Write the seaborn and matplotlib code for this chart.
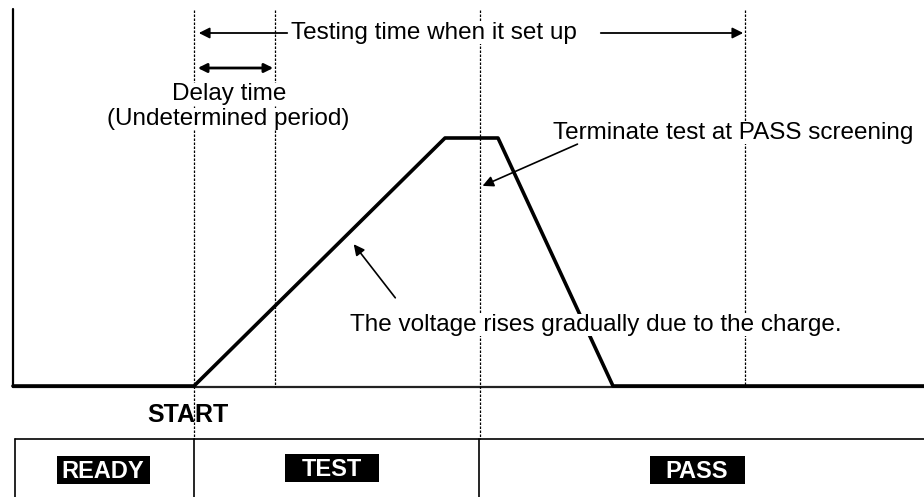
"""
test timing diagram using seaborn / matplotlib
"""
import pandas as pd
import seaborn as sns
import matplotlib.pyplot as plt
from matplotlib.patches import Rectangle

# waveform (x in px-like time units, y in px from top)
wave_t = [13, 194, 445, 498, 613, 924]
wave_v = [386, 386, 138, 138, 386, 386]

# dashed marker lines: x and where they stop
mark_x = [194, 275, 480, 745]
mark_bottom = [439, 387, 439, 387]

# state labels
state_names = ["READY", "TEST", "PASS"]
state_cx = [103, 332, 697]
state_cy = [470, 468, 470]
state_w = [93, 94, 95]
state_edges = [15, 194, 479]

sns.set_style("white")
plt.rcParams['font.family'] = ['Liberation Sans', 'DejaVu Sans']
plt.rcParams['text.color'] = 'black'
FS = 17.5
WB = dict(fc="white", ec="none", pad=0.2)

fig = plt.figure(figsize=(9.24, 4.97), dpi=100)
ax = fig.add_axes([0, 0, 1, 1])
ax.set_xlim(0, 924)
ax.set_ylim(497, 0)
ax.axis("off")

# axes of the diagram
ax.plot([13, 13], [9, 387], color="black", lw=1.6)
ax.plot([13, 924], [386.5, 386.5], color="#222222", lw=1.6)

wave = pd.DataFrame({"t": wave_t, "v": wave_v})
sns.lineplot(data=wave, x="t", y="v", color="black", linewidth=2.6, ax=ax, sort=False)

for x, b in zip(mark_x, mark_bottom):
    ax.plot([x, x], [10, b], color="black", lw=0.9, ls=(0, (2, 1.2)))

# testing time arrow
ax.annotate("", xy=(196, 33), xytext=(290, 33),
            arrowprops=dict(arrowstyle="-|>", color="black", lw=1.3, mutation_scale=16))
ax.annotate("", xy=(746, 33), xytext=(598, 33),
            arrowprops=dict(arrowstyle="-|>", color="black", lw=1.3, mutation_scale=16))
ax.text(291, 39, "Testing time when it set up", fontsize=FS, ha="left", va="baseline",
        bbox=WB, zorder=5)

# delay arrow
ax.annotate("", xy=(195, 68), xytext=(276, 68),
            arrowprops=dict(arrowstyle="<|-|>", color="black", lw=2.0, mutation_scale=13))
ax.text(229, 100, "Delay time", fontsize=FS, ha="center", va="baseline", bbox=WB, zorder=5)
ax.text(228, 125, "(Undetermined period)", fontsize=FS, ha="center", va="baseline",
        bbox=WB, zorder=5)

# terminate label
ax.text(553, 139, "Terminate test at PASS screening", fontsize=FS, ha="left",
        va="baseline", bbox=WB, zorder=5)
ax.annotate("", xy=(480, 187), xytext=(580, 143),
            arrowprops=dict(arrowstyle="-|>", color="black", lw=1.2, mutation_scale=16),
            zorder=6)

# voltage label
ax.text(350, 331, "The voltage rises gradually due to the charge.", fontsize=FS,
        ha="left", va="baseline", bbox=WB, zorder=5)
ax.annotate("", xy=(352, 242), xytext=(397, 300),
            arrowprops=dict(arrowstyle="-|>", color="black", lw=1.2, mutation_scale=16))

ax.text(188, 422, "START", fontsize=18, fontweight="bold", ha="center", va="baseline")

# state boxes
ax.plot([15, 924], [439, 439], color="black", lw=1.2)
for e in state_edges:
    ax.plot([e, e], [439, 497], color="black", lw=1.2)
for name, cx, cy, w in zip(state_names, state_cx, state_cy, state_w):
    ax.add_patch(Rectangle((cx - w / 2, cy - 14), w, 28, fc="black", ec="none"))
    ax.text(cx, cy + 8, name, fontsize=17, fontweight="bold", color="white",
            ha="center", va="baseline")

fig.savefig("out.png", dpi=100)
